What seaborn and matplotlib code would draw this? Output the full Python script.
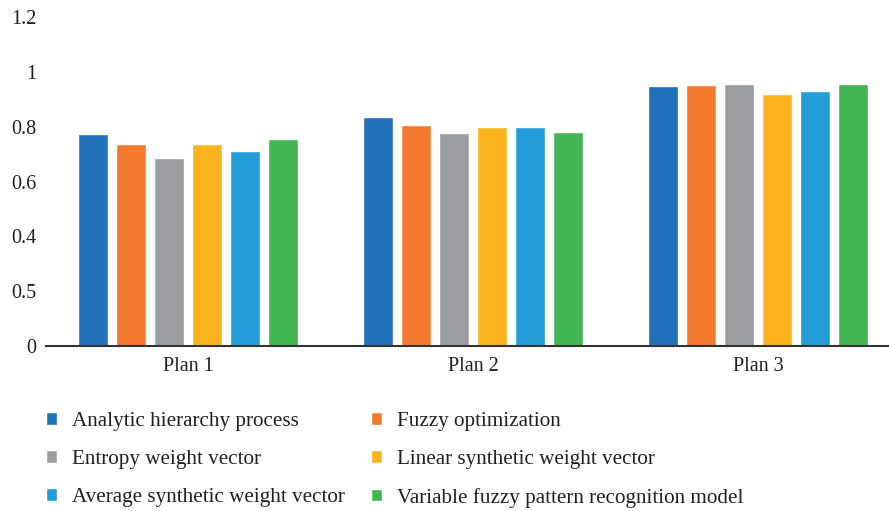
import numpy as np
import pandas as pd
import matplotlib
matplotlib.use("Agg")
import matplotlib.pyplot as plt
import seaborn as sns

# values
plans = ["Plan 1", "Plan 2", "Plan 3"]
methods = ["Analytic hierarchy process", "Fuzzy optimization",
           "Entropy weight vector", "Linear synthetic weight vector",
           "Average synthetic weight vector", "Variable fuzzy pattern recognition model"]
ahp = [0.774, 0.836, 0.949]
fuzzy_opt = [0.737, 0.807, 0.953]
entropy = [0.686, 0.777, 0.956]
linear = [0.737, 0.799, 0.920]
average = [0.712, 0.799, 0.931]
variable = [0.755, 0.781, 0.956]
ytick_vals = [0, 0.2, 0.4, 0.6, 0.8, 1.0, 1.2]
ytick_labels = ["0", "0.5", "0.4", "0.6", "0.8", "1", "1.2"]

colors = ["#2172BA", "#F47B2E", "#9B9EA0", "#FBB41E", "#229DD8", "#41B653"]

series = [ahp, fuzzy_opt, entropy, linear, average, variable]
rows = []
for m, vals in zip(methods, series):
    for p, v in zip(plans, vals):
        rows.append({"plan": p, "method": m, "value": v})
df = pd.DataFrame(rows)

sns.set_style("white")
plt.rcParams["font.family"] = ["Liberation Serif", "DejaVu Serif"]

fig = plt.figure(figsize=(8.89, 5.11), dpi=100)
ax = fig.add_axes([46 / 889, 165 / 511, 1 - 46 / 889, 329 / 511])

sns.barplot(data=df, x="plan", y="value", hue="method", palette=colors,
            hue_order=methods, width=0.8, gap=0.21, saturation=1,
            ax=ax, legend=True)

ax.set_xlim(-0.5, 2.46)
ax.set_ylim(0, 1.2)
ax.set_yticks(ytick_vals)
ax.set_yticklabels(ytick_labels)
ax.set_xlabel("")
ax.set_ylabel("")
ax.tick_params(axis="both", length=0, labelsize=14.5, colors="#231F20")
ax.tick_params(axis="y", pad=7)
ax.tick_params(axis="x", pad=8)
for s in ["top", "right", "left"]:
    ax.spines[s].set_visible(False)
ax.spines["bottom"].set_color("#333333")
ax.spines["bottom"].set_linewidth(1.5)

handles, labels = ax.get_legend_handles_labels()
ax.get_legend().remove()
order = [0, 2, 4, 1, 3, 5]
fig.legend([handles[i] for i in order], [labels[i] for i in order],
           ncol=2, loc="upper left", bbox_to_anchor=(27 / 889, 1 - 393 / 511),
           frameon=False, fontsize=15.2, handlelength=0.5, handleheight=0.5,
           handletextpad=0.72, labelspacing=0.9, columnspacing=1.25,
           labelcolor="#231F20")

fig.savefig("out.png", dpi=100)
